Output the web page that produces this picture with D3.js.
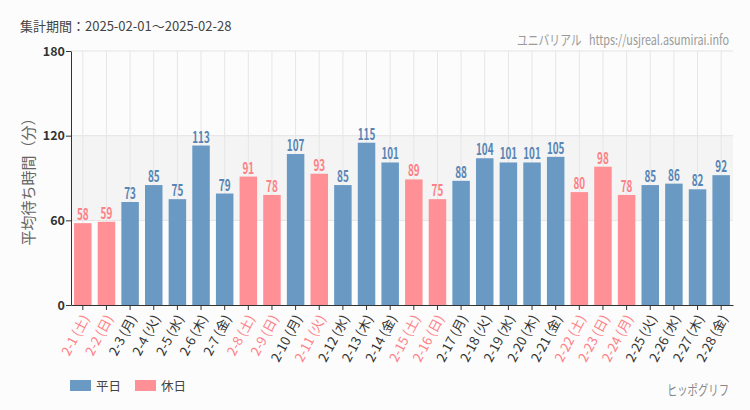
<!DOCTYPE html>
<html><head><meta charset="utf-8">
<script src="https://cdn.jsdelivr.net/npm/d3@7"></script>
<style>
body{margin:0;background:#fbfcfb;}
svg{display:block;}
text{font-family:"Noto Sans CJK JP","Noto Sans",sans-serif;}
.pre{white-space:pre;}
</style></head>
<body>
<script>
const dates = ["2-1","2-2","2-3","2-4","2-5","2-6","2-7","2-8","2-9","2-10","2-11","2-12","2-13","2-14","2-15","2-16","2-17","2-18","2-19","2-20","2-21","2-22","2-23","2-24","2-25","2-26","2-27","2-28"];
const weekdays = ["土","日","月","火","水","木","金","土","日","月","火","水","木","金","土","日","月","火","水","木","金","土","日","月","火","水","木","金"];
const holiday = [1,1,0,0,0,0,0,1,1,0,1,0,0,0,1,1,0,0,0,0,0,1,1,1,0,0,0,0];
const values = [58,59,73,85,75,113,79,91,78,107,93,85,115,101,89,75,88,104,101,101,105,80,98,78,85,86,82,92];
const yTicks = [0,60,120,180];
const legendLabels = ["平日","休日"];

const W=750,H=410;
const m={l:71,r:17,t:51,b:105};
const svg=d3.select("body").append("svg").attr("width",W).attr("height",H);
svg.append("rect").attr("width",W).attr("height",H).attr("fill","#fbfcfb");

const x=d3.scaleBand().domain(dates).range([m.l,W-m.r]).paddingInner(0.26).paddingOuter(0.13);
const y=d3.scaleLinear().domain([0,180]).range([H-m.b,m.t]);
const blue="#6a9ac4", pink="#ff9196", blueT="#5785b5", pinkT="#ff7f86";

svg.append("rect").attr("x",m.l).attr("width",W-m.r-m.l).attr("y",y(120)).attr("height",y(60)-y(120)).attr("fill","#f3f4f3");
svg.append("g").selectAll("line").data(yTicks.slice(1)).join("line")
 .attr("x1",m.l).attr("x2",W-m.r).attr("y1",d=>y(d)).attr("y2",d=>y(d)).attr("stroke","#e4e4e4");
svg.append("g").selectAll("line").data(dates).join("line")
 .attr("x1",d=>x(d)+x.bandwidth()/2).attr("x2",d=>x(d)+x.bandwidth()/2).attr("y1",y(180)).attr("y2",y(0)).attr("stroke","#e6e6e6");

svg.append("g").selectAll("rect").data(values).join("rect")
 .attr("x",(d,i)=>x(dates[i])).attr("width",x.bandwidth())
 .attr("y",d=>y(d)).attr("height",d=>y(0)-y(d))
 .attr("fill",(d,i)=>holiday[i]?pink:blue);

svg.append("g").selectAll("text").data(values).join("text")
 .attr("transform",(d,i)=>`translate(${x(dates[i])+x.bandwidth()/2},${y(d)-3}) scale(0.64,1)`)
 .attr("text-anchor","middle").attr("font-size",15.5).attr("font-family","Roboto,sans-serif").attr("font-weight",700)
 .attr("fill",(d,i)=>holiday[i]?pinkT:blueT).text(d=>d);

const ya=svg.append("g").attr("transform",`translate(${m.l},0)`)
 .call(d3.axisLeft(y).tickValues(yTicks).tickSize(5).tickSizeOuter(0));
ya.select(".domain").attr("stroke","#333");
ya.selectAll(".tick line").attr("stroke","#333");
ya.selectAll(".tick text").attr("font-size",12.5).attr("fill","#333").attr("font-family","'Liberation Sans',sans-serif").attr("font-weight","bold").attr("x",-6);

const xa=svg.append("g").attr("transform",`translate(0,${y(0)})`)
 .call(d3.axisBottom(x).tickSize(5).tickSizeOuter(0).tickFormat((d,i)=>`${d} (${weekdays[i]})`));
xa.select(".domain").attr("stroke","#333");
xa.selectAll(".tick line").attr("stroke","#333");
xa.selectAll(".tick text").attr("font-size",13)
 .attr("fill",(d,i)=>holiday[i]?"#ff8086":"#333")
 .attr("text-anchor","end").attr("dy","0.35em")
 .attr("transform","translate(3,11) rotate(-62)").attr("x",0).attr("y",0);

svg.append("text").attr("transform",`translate(27,${(y(0)+y(180))/2}) rotate(-90)`)
 .attr("text-anchor","middle").attr("dominant-baseline","central").attr("font-size",15).attr("fill","#666").text("平均待ち時間（分）");

svg.append("text").attr("x",20).attr("y",31).attr("font-size",13).attr("fill","#444").text("集計期間：2025-02-01～2025-02-28");
svg.append("text").attr("class","pre").attr("transform","translate(729,45) scale(0.8,1)").attr("text-anchor","end").attr("font-size",13.5).attr("fill","#9a9a9a")
 .text("ユニバリアル   https://usjreal.asumirai.info");
svg.append("text").attr("transform","translate(729,395) scale(0.74,1)").attr("text-anchor","end").attr("font-size",14).attr("fill","#888").text("ヒッポグリフ");

const lg=svg.append("g").selectAll("g").data(legendLabels).join("g").attr("transform",(d,i)=>`translate(${70+i*65},380)`);
lg.append("rect").attr("width",21).attr("height",11).attr("fill",(d,i)=>i?pink:blue);
lg.append("text").attr("x",26).attr("y",11).attr("font-size",12.5).attr("fill","#444").text(d=>d);
</script>
</body></html>
